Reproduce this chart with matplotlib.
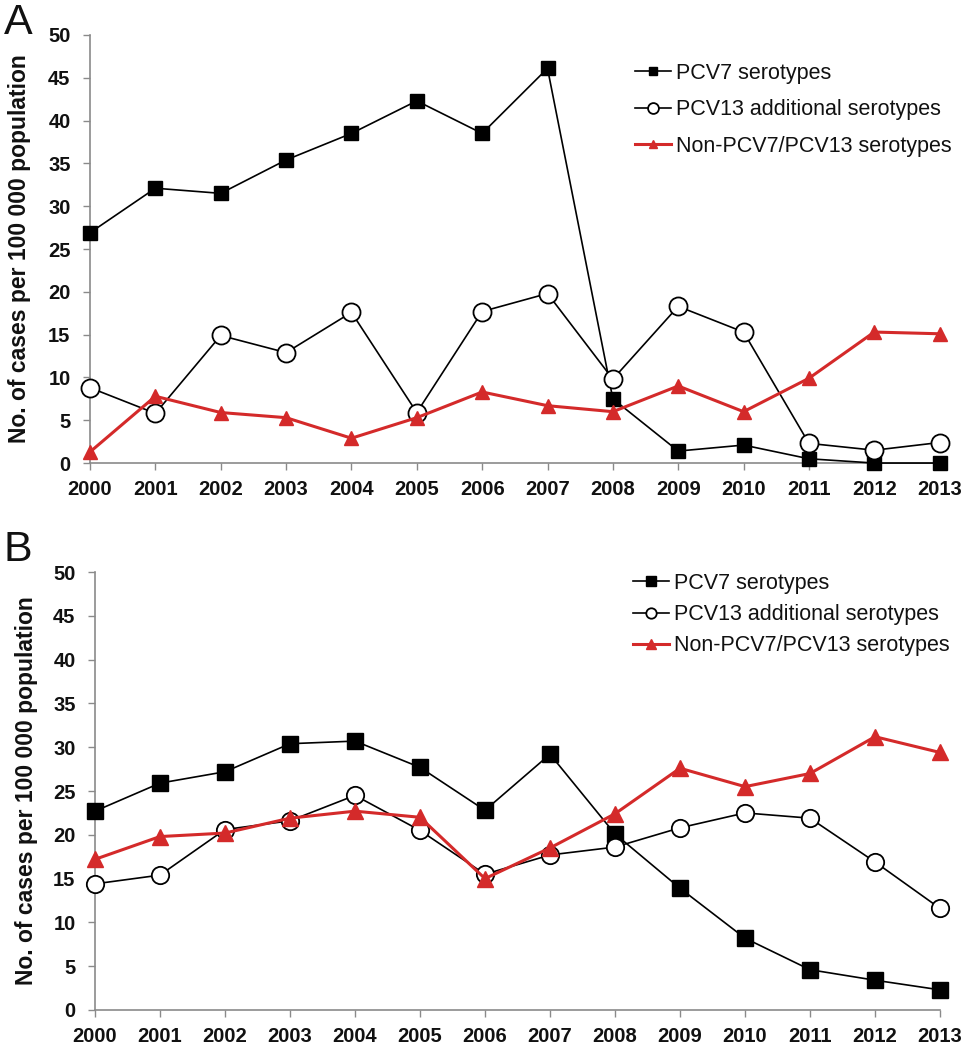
import matplotlib
matplotlib.use("Agg")
import matplotlib.pyplot as plt

plt.rcParams['font.family'] = ['Liberation Sans', 'DejaVu Sans']

years = list(range(2000, 2014))
year_labels = [str(y) for y in years]

a_pcv7 = [26.9, 32.1, 31.5, 35.4, 38.5, 42.3, 38.5, 46.1, 7.5, 1.4, 2.1, 0.5, 0.0, 0.0]
a_pcv13 = [8.8, 5.8, 14.9, 12.9, 17.6, 5.9, 17.7, 19.8, 9.8, 18.3, 15.3, 2.3, 1.5, 2.4]
a_non = [1.3, 7.8, 5.9, 5.3, 2.9, 5.3, 8.3, 6.7, 6.0, 9.0, 6.0, 9.9, 15.3, 15.1]

b_pcv7 = [22.7, 25.9, 27.2, 30.4, 30.7, 27.7, 22.8, 29.2, 20.1, 13.9, 8.2, 4.6, 3.4, 2.3]
b_pcv13 = [14.4, 15.4, 20.6, 21.6, 24.5, 20.5, 15.5, 17.7, 18.6, 20.8, 22.5, 21.9, 16.9, 11.6]
b_non = [17.2, 19.8, 20.2, 21.9, 22.7, 22.0, 15.0, 18.5, 22.4, 27.6, 25.5, 27.0, 31.2, 29.4]

labels = ['PCV7 serotypes', 'PCV13 additional serotypes', 'Non-PCV7/PCV13 serotypes']
ylabel = 'No. of cases per 100 000 population'

RED = '#d42a2a'
GRAY = '#8a8a8a'

fig = plt.figure(figsize=(9.66, 10.5), dpi=100)
axA = fig.add_axes([0.0932, 0.559, 0.8795, 0.4077])
axB = fig.add_axes([0.0983, 0.0381, 0.8748, 0.4171])


def draw(ax, pcv7, pcv13, non, msq, mci, mtr, leg_anchor, leg_spacing, label_x):
    l1, = ax.plot(years, pcv7, color='black', lw=1.2, marker='s', ms=msq,
                  mfc='black', mec='black', clip_on=False, zorder=3)
    l2, = ax.plot(years, pcv13, color='black', lw=1.2, marker='o', ms=mci,
                  mfc='white', mec='black', mew=1.3, clip_on=False, zorder=4)
    l3, = ax.plot(years, non, color=RED, lw=2.2, marker='^', ms=mtr,
                  mfc=RED, mec=RED, clip_on=False, zorder=5)
    ax.set_xlim(2000, 2013)
    ax.set_ylim(0, 50)
    ax.set_yticks(range(0, 51, 5))
    ax.set_xticks(years)
    ax.set_xticklabels(year_labels)
    for s in ['top', 'right']:
        ax.spines[s].set_visible(False)
    for s in ['left', 'bottom']:
        ax.spines[s].set_color(GRAY)
        ax.spines[s].set_linewidth(1.2)
    ax.tick_params(axis='both', colors=GRAY, length=5, width=1.0, direction='out')
    for t in ax.get_xticklabels() + ax.get_yticklabels():
        t.set_color('#111111')
        t.set_fontweight('bold')
        t.set_fontsize(14.5)
    ax.tick_params(axis='x', pad=7)
    ax.tick_params(axis='y', pad=9)
    ax.set_ylabel(ylabel, fontsize=16.5, fontweight='bold', color='#111111')
    ax.yaxis.set_label_coords(label_x, 0.5)
    leg = ax.legend([l1, l2, l3], labels, loc='upper left', bbox_to_anchor=leg_anchor,
                    bbox_transform=fig.transFigure, frameon=False, fontsize=15.5,
                    handlelength=1.7, handletextpad=0.2, labelspacing=leg_spacing,
                    markerscale=0.6, borderpad=0, borderaxespad=0)
    for t in leg.get_texts():
        t.set_color('#111111')


draw(axA, a_pcv7, a_pcv13, a_non, 10, 13, 10, (0.657, 0.94), 0.72, -0.07)
draw(axB, b_pcv7, b_pcv13, b_non, 12, 12.5, 11, (0.655, 0.4543), 0.47, -0.067)

fig.text(0.004, 0.997, 'A', fontsize=31, va='top', ha='left', color='#111111')
fig.text(0.004, 0.495, 'B', fontsize=31, va='top', ha='left', color='#111111')

fig.savefig('out.png', dpi=100)
